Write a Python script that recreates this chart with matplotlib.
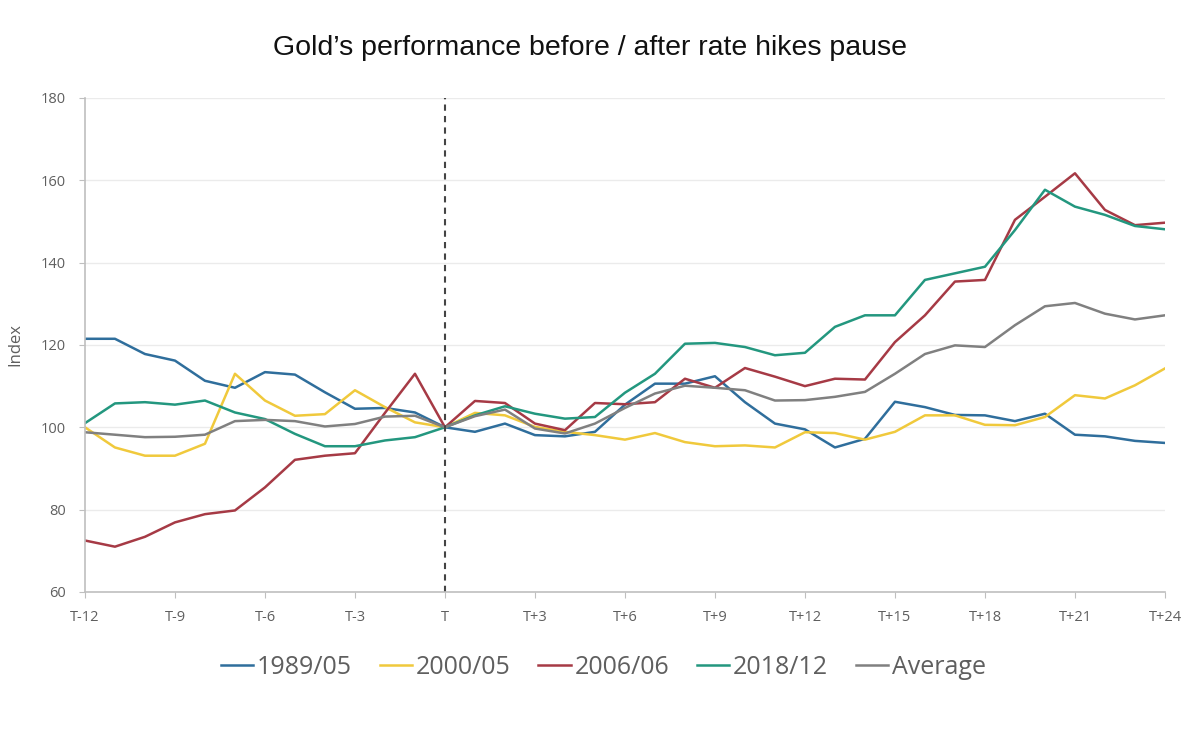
import matplotlib
matplotlib.use("Agg")
import matplotlib.pyplot as plt

# meses relativos a la pausa de subidas de tipos
meses = list(range(-12, 25))
etiquetas = ["T" if m == 0 else f"T{m:+d}" for m in meses]

s1989 = [121.5, 121.5, 117.8, 116.2, 111.3, 109.6, 113.4, 112.8, 108.5, 104.5, 104.7, 103.6, 100,
         98.9, 100.9, 98.1, 97.8, 98.9, 105.5, 110.6, 110.6, 112.4, 106.1, 100.9, 99.5,
         95.1, 97.2, 106.2, 104.9, 103.0, 102.9, 101.5, 103.3, 98.2, 97.8, 96.7, 96.2]
s2000 = [100, 95.1, 93.1, 93.1, 96.0, 113.0, 106.5, 102.8, 103.2, 109.0, 104.9, 101.2, 100,
         103.5, 102.9, 100.1, 98.9, 98.1, 97.0, 98.6, 96.4, 95.4, 95.6, 95.1, 98.8,
         98.6, 97.0, 98.9, 102.9, 102.9, 100.6, 100.5, 102.5, 107.8, 107.0, 110.2, 114.3]
s2006 = [72.5, 71.0, 73.4, 76.9, 78.9, 79.8, 85.4, 92.1, 93.1, 93.7, 103.5, 113.0, 100,
         106.4, 105.9, 100.9, 99.3, 105.9, 105.6, 106.1, 111.8, 109.6, 114.4, 112.3, 110.0,
         111.8, 111.6, 120.7, 127.2, 135.4, 135.8, 150.4, 156.0, 161.7, 152.8, 149.1, 149.7]
s2018 = [101.0, 105.8, 106.1, 105.5, 106.5, 103.6, 102.0, 98.4, 95.4, 95.4, 96.8, 97.6, 100,
         102.9, 105.1, 103.3, 102.1, 102.5, 108.4, 113.0, 120.3, 120.5, 119.5, 117.5, 118.1,
         124.4, 127.2, 127.2, 135.8, 137.4, 139.0, 147.9, 157.7, 153.6, 151.6, 148.9, 148.1]
promedio = [98.8, 98.2, 97.6, 97.7, 98.2, 101.5, 101.8, 101.5, 100.2, 100.8, 102.6, 102.8, 100,
            102.7, 104.3, 99.7, 98.5, 100.9, 104.7, 108.2, 110.1, 109.6, 109.0, 106.5, 106.6,
            107.4, 108.6, 113.0, 117.8, 119.9, 119.5, 124.8, 129.4, 130.2, 127.6, 126.2, 127.2]

series = [("1989/05", s1989, "#2f6e9c"),
          ("2000/05", s2000, "#f0c93c"),
          ("2006/06", s2006, "#a63a45"),
          ("2018/12", s2018, "#23977f"),
          ("Average", promedio, "#808080")]

gris_txt = "#5f5f5f"

fig = plt.figure(figsize=(12, 7.31), dpi=100)
ax = fig.add_axes([0.0708, 0.1902, 0.9, 0.6758])

for nombre, datos, col in series:
    ax.plot(meses, datos, color=col, linewidth=1.8, label=nombre)

ax.axvline(0, color="#444444", linestyle=(0, (3, 2.5)), linewidth=1.5)

ax.set_xlim(-12, 24)
ax.set_ylim(60, 180)
ax.set_yticks(range(60, 181, 20))
ax.set_xticks(meses[::3])
ax.set_xticklabels(etiquetas[::3])
ax.grid(axis="y", color="#ebebeb", linewidth=1)
ax.set_axisbelow(True)

for lado in ["top", "right"]:
    ax.spines[lado].set_visible(False)
for lado in ["left", "bottom"]:
    ax.spines[lado].set_color("#bfbfbf")
    ax.spines[lado].set_linewidth(1.2)

ax.tick_params(colors="#bfbfbf", length=4, labelcolor=gris_txt, labelsize=10.5)
ax.tick_params(axis="x", pad=9)
ax.tick_params(axis="y", pad=10)
for t in ax.get_xticklabels() + ax.get_yticklabels():
    t.set_family("Open Sans")

ax.set_ylabel("Index", fontsize=12, color=gris_txt, family="Open Sans", labelpad=12)

fig.text(0.492, 0.934, "Gold\u2019s performance before / after rate hikes pause",
         ha="center", va="center", fontsize=20.5, family="Liberation Sans", color="#111111")

ax.legend(loc="center", bbox_to_anchor=(0.48, -0.153), ncol=5, frameon=False,
          handlelength=1.3, handletextpad=0.15, columnspacing=1.1,
          prop={"family": "Open Sans", "size": 18}, labelcolor=gris_txt)

fig.savefig("out.png", dpi=100)
